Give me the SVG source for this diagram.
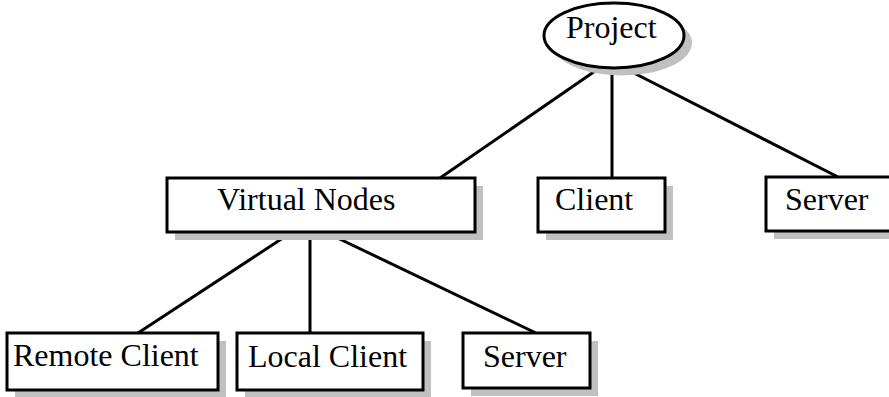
<svg xmlns="http://www.w3.org/2000/svg" width="889" height="397" viewBox="0 0 889 397">
<style>
.box{fill:#fff;stroke:#000;stroke-width:3}
.sh{fill:#c0c0c0}
.t{font-family:"Liberation Serif","Times New Roman",serif;font-size:32px;fill:#000}
.c line{stroke:#000;stroke-width:3}
</style>
<rect width="889" height="397" fill="#fff"/>
<g class="c">
<line x1="598" y1="69" x2="440" y2="178"/>
<line x1="612" y1="68" x2="612" y2="178"/>
<line x1="626" y1="69" x2="838" y2="177"/>
<line x1="292" y1="232" x2="138" y2="333"/>
<line x1="310" y1="232" x2="310" y2="333"/>
<line x1="325" y1="232" x2="536" y2="333"/>
</g>
<g id="project">
<ellipse class="sh" cx="622" cy="43" rx="70" ry="32.5"/>
<ellipse class="box" cx="614" cy="35.5" rx="70" ry="32.5"/>
<text class="t" x="566" y="38">Project</text>
</g>
<g id="virtual-nodes">
<rect class="sh" x="175" y="186" width="308" height="54"/>
<rect class="box" x="167" y="178" width="308" height="54"/>
<text class="t" x="217" y="210">Virtual Nodes</text>
</g>
<g id="client">
<rect class="sh" x="546" y="186" width="127" height="54"/>
<rect class="box" x="538" y="178" width="127" height="54"/>
<text class="t" x="555" y="210">Client</text>
</g>
<g id="server-top">
<rect class="sh" x="774" y="185" width="130" height="54"/>
<rect class="box" x="766" y="177" width="130" height="54"/>
<text class="t" x="785" y="210">Server</text>
</g>
<g id="remote-client">
<rect class="sh" x="15" y="341" width="211" height="57"/>
<rect class="box" x="7" y="333" width="211" height="57"/>
<text class="t" x="13" y="366">Remote Client</text>
</g>
<g id="local-client">
<rect class="sh" x="245" y="341" width="186" height="57"/>
<rect class="box" x="237" y="333" width="186" height="57"/>
<text class="t" x="248" y="367">Local Client</text>
</g>
<g id="server-bottom">
<rect class="sh" x="471" y="341" width="127" height="55"/>
<rect class="box" x="463" y="333" width="127" height="55"/>
<text class="t" x="483" y="367">Server</text>
</g>
</svg>
